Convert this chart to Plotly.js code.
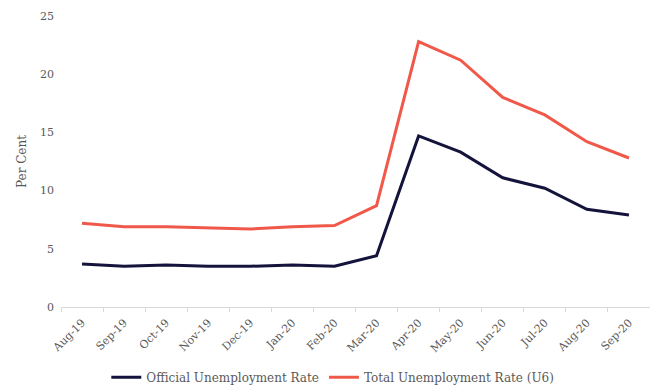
<!DOCTYPE html>
<html>
<head>
<meta charset="utf-8">
<script src="https://cdn.plot.ly/plotly-3.0.1.min.js"></script>
<style>html,body{margin:0;padding:0;background:#fff;}#chart{width:650px;height:388px;}</style>
</head>
<body>
<div id="chart"></div>
<script>
const months = ["Aug-19","Sep-19","Oct-19","Nov-19","Dec-19","Jan-20","Feb-20","Mar-20","Apr-20","May-20","Jun-20","Jul-20","Aug-20","Sep-20"];
const officialRate = [3.7,3.5,3.6,3.5,3.5,3.6,3.5,4.4,14.7,13.3,11.1,10.2,8.4,7.9];
const u6Rate = [7.2,6.9,6.9,6.8,6.7,6.9,7.0,8.7,22.8,21.2,18.0,16.5,14.2,12.8];
const yTicks = [0,5,10,15,20,25];

const font = "'DejaVu Serif', serif";
const data = [
  {x: months, y: officialRate, type: 'scatter', mode: 'lines', name: 'Official Unemployment Rate',
   line: {color: '#14133b', width: 3}},
  {x: months, y: u6Rate, type: 'scatter', mode: 'lines', name: 'Total Unemployment Rate (U6)',
   line: {color: '#f0594a', width: 3}}
];
const layout = {
  width: 650, height: 388,
  margin: {l: 61, r: 0, t: 16, b: 81, autoexpand: false},
  paper_bgcolor: '#fff', plot_bgcolor: '#fff',
  font: {family: font, size: 11, color: '#595959'},
  showlegend: true,
  legend: {orientation: 'h', x: 0.512, xanchor: 'center', xref: 'container', y: 0.028, yanchor: 'middle', yref: 'container',
           font: {family: font, size: 12, color: '#595959'}, itemwidth: 30, tracegroupgap: 0},
  xaxis: {type: 'category', range: [-0.5, 13.5], tickangle: -45, showgrid: false, zeroline: false,
          showline: true, linecolor: '#d9d9d9', linewidth: 1, ticks: 'outside', tickson: 'boundaries',
          ticklen: 4, tickcolor: '#d9d9d9', ticklabelstandoff: 4, tickfont: {family: font, size: 11, color: '#595959'}},
  yaxis: {range: [0, 25], tickvals: yTicks, showgrid: false, zeroline: false, showline: false,
          ticks: '', ticklabelstandoff: 6, tickfont: {family: font, size: 11, color: '#595959'},
          title: {text: 'Per Cent', font: {family: font, size: 12, color: '#595959'}, standoff: 10}}
};
Plotly.newPlot('chart', data, layout, {displayModeBar: false, staticPlot: true});
</script>
</body>
</html>
